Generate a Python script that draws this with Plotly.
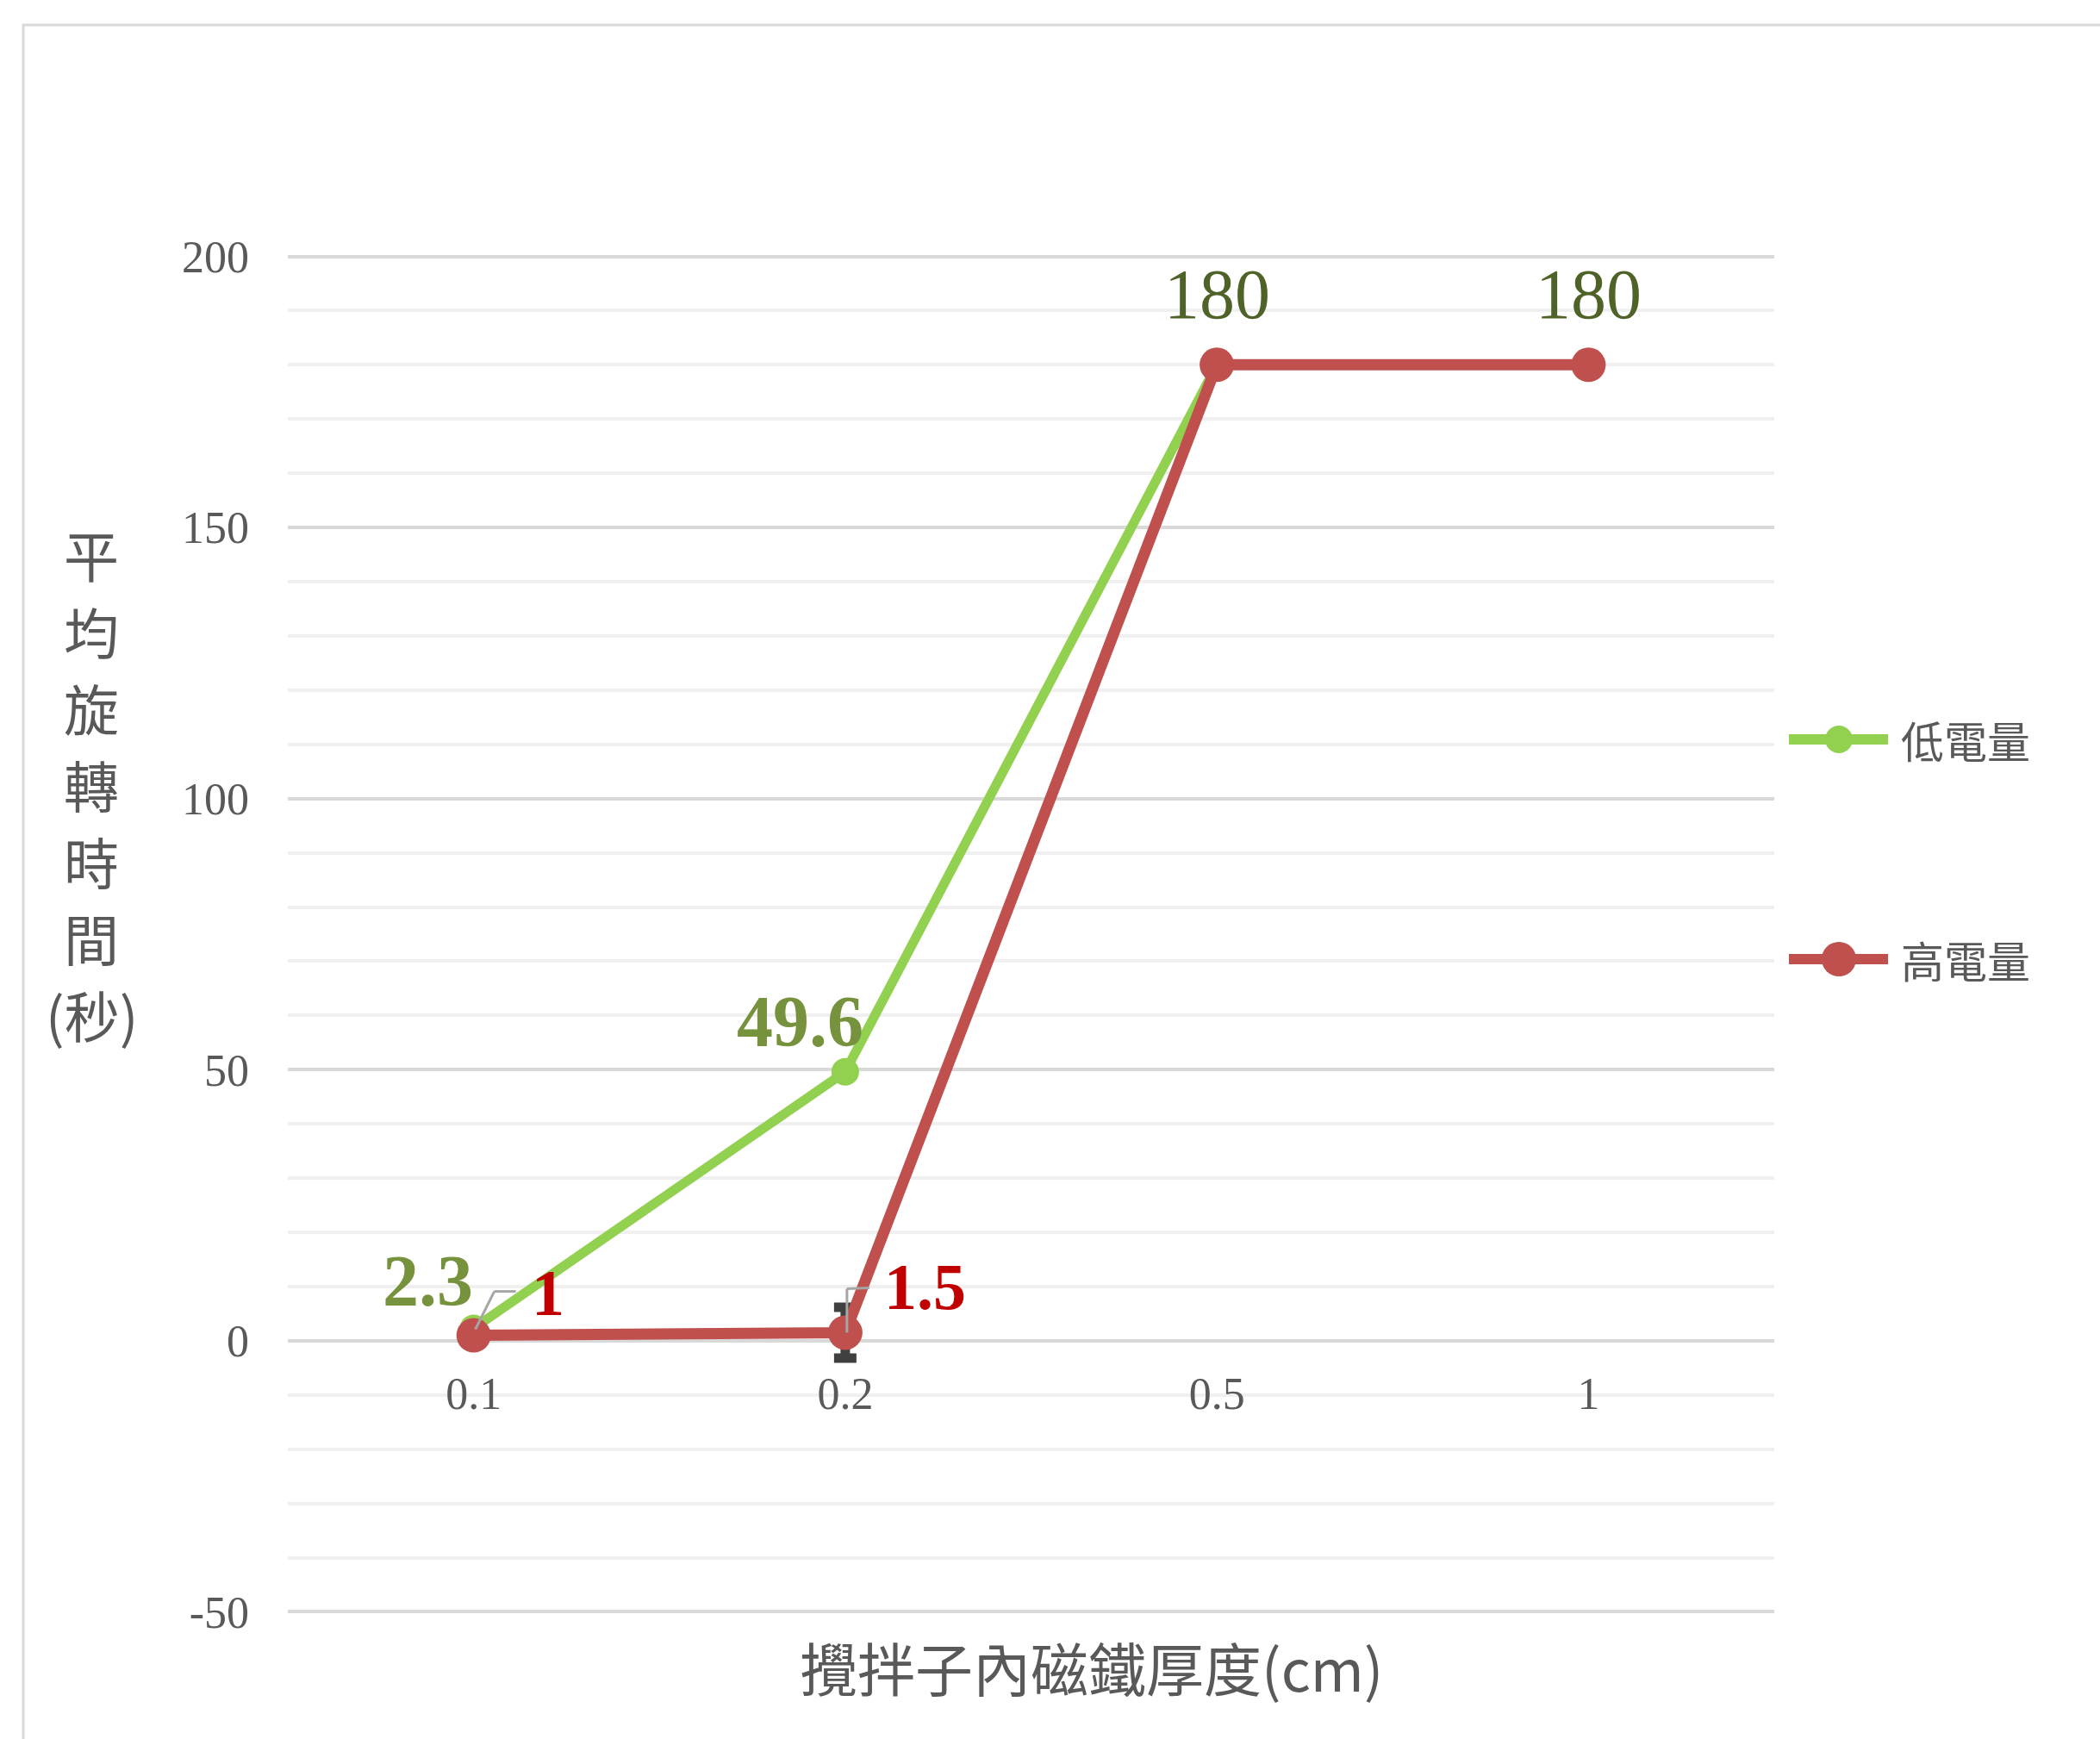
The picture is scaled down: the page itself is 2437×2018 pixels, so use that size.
import plotly.graph_objects as go

# ---- data ----
thickness = ["0.1", "0.2", "0.5", "1"]          # 攪拌子內磁鐵厚度 (cm)
low_power = [2.3, 49.6, 180, 180]               # 低電量 平均旋轉時間 (秒)
high_power = [1, 1.5, 180, 180]                 # 高電量 平均旋轉時間 (秒)
high_err = [0, 4.7, 0, 0]                       # 高電量 誤差

y_ticks = [-50, 0, 50, 100, 150, 200]
y_tick_text = ["-50", "0", "50", "100", "150", "200"]

# ---- figure geometry ----
W, H = 2437, 2018
ML, MR, MT, MB = 334, 378, 295, 145
PW, PH = W - ML - MR, H - MT - MB
Y_MIN, Y_MAX = -50, 200
Y_PAD = 0.4   # keeps the outermost gridlines inside the plot area

GREEN = "#92D050"
RED = "#C0504D"
GREY_TXT = "#595959"
SERIF = "Liberation Serif"
CJK = "Noto Sans CJK TC"


def px_x(px):
    return (px - ML) / PW


def px_y(py):
    return (H - MB - py) / PH


xs = list(range(len(thickness)))

fig = go.Figure()

fig.add_trace(go.Scatter(
    x=xs, y=low_power, mode="lines+markers", name="低電量",
    line=dict(color=GREEN, width=11), marker=dict(color=GREEN, size=32),
    showlegend=False, hoverinfo="skip",
))

# error bar for the high-power series, drawn beneath its line and markers
err_idx = [i for i, e in enumerate(high_err) if e > 0]
fig.add_trace(go.Scatter(
    x=[xs[i] for i in err_idx], y=[high_power[i] for i in err_idx],
    mode="markers", marker=dict(size=1, opacity=0),
    error_y=dict(type="data", array=[high_err[i] for i in err_idx],
                 color="#404040", thickness=11, width=13),
    showlegend=False, hoverinfo="skip",
))

fig.add_trace(go.Scatter(
    x=xs, y=high_power, mode="lines+markers", name="高電量",
    line=dict(color=RED, width=13), marker=dict(color=RED, size=40),
    showlegend=False, hoverinfo="skip",
))

annotations = []
shapes = []

# ---- data labels ----
def fmt(v):
    return f"{v:g}"

low_label_style = {
    0: dict(xshift=-53, yshift=55, color="#76923C", bold=True, size=84),
    1: dict(xshift=-52, yshift=58, color="#76923C", bold=True, size=84),
    2: dict(xshift=0, yshift=82, color="#4F6228", bold=False, size=82),
    3: dict(xshift=0, yshift=82, color="#4F6228", bold=False, size=82),
}
for i, st in low_label_style.items():
    t = fmt(low_power[i])
    annotations.append(dict(
        x=xs[i], y=low_power[i], xref="x", yref="y",
        text=f"<b>{t}</b>" if st["bold"] else t, showarrow=False,
        xshift=st["xshift"], yshift=st["yshift"],
        font=dict(family=SERIF, size=st["size"], color=st["color"]),
    ))

high_label_style = {
    0: dict(xshift=86, yshift=50),
    1: dict(xshift=93, yshift=53),
}
for i, st in high_label_style.items():
    annotations.append(dict(
        x=xs[i], y=high_power[i], xref="x", yref="y",
        text=f"<b>{fmt(high_power[i])}</b>", showarrow=False,
        xshift=st["xshift"], yshift=st["yshift"],
        font=dict(family=SERIF, size=76, color="#C00000"),
    ))

# leader lines from points to the red labels
leaders = {
    0: [(2, 7), (24, 51), (49, 51)],
    1: [(2, 0), (2, 51), (28, 52)],
}
for i, pts in leaders.items():
    for (ax, ay), (bx, by) in zip(pts[:-1], pts[1:]):
        shapes.append(dict(
            type="line", xref="x", yref="y",
            xsizemode="pixel", ysizemode="pixel",
            xanchor=xs[i], yanchor=high_power[i],
            x0=ax, y0=ay, x1=bx, y1=by,
            line=dict(color="#A6A6A6", width=3), layer="above",
        ))

# ---- outer chart frame ----
shapes.append(dict(
    type="rect", xref="paper", yref="paper",
    x0=px_x(27), x1=px_x(W + 20), y0=px_y(H + 20), y1=px_y(29),
    line=dict(color="#D9D9D9", width=3), fillcolor="rgba(0,0,0,0)", layer="below",
))

# ---- legend ----
legend_items = [("低電量", GREEN, 32, 858), ("高電量", RED, 40, 1113)]
for name, color, msize, py in legend_items:
    yy = px_y(py)
    shapes.append(dict(
        type="line", xref="paper", yref="paper",
        x0=px_x(2076), x1=px_x(2191), y0=yy, y1=yy,
        line=dict(color=color, width=12),
    ))
    r = msize / 2
    shapes.append(dict(
        type="circle", xref="paper", yref="paper",
        xsizemode="pixel", ysizemode="pixel",
        xanchor=px_x(2134), yanchor=yy,
        x0=-r, x1=r, y0=-r, y1=r,
        fillcolor=color, line=dict(width=0),
    ))
    annotations.append(dict(
        x=px_x(2204), y=yy, xref="paper", yref="paper",
        xanchor="left", yanchor="middle", showarrow=False, text=name,
        font=dict(family=CJK, size=50, color=GREY_TXT),
    ))

# ---- axis titles ----
y_title = ["平", "均", "旋", "轉", "時", "間", "(秒)"]
for k, ch in enumerate(y_title):
    annotations.append(dict(
        x=px_x(106), y=px_y(642 + 89 * k), xref="paper", yref="paper",
        xanchor="center", yanchor="middle", showarrow=False, text=ch,
        font=dict(family=CJK, size=64, color=GREY_TXT),
    ))

annotations.append(dict(
    x=px_x(1267), y=px_y(1934), xref="paper", yref="paper",
    xanchor="center", yanchor="middle", showarrow=False,
    text="攪拌子內磁鐵厚度(cm)",
    font=dict(family=CJK, size=67, color=GREY_TXT),
))

fig.update_layout(
    width=W, height=H,
    margin=dict(l=ML, r=MR, t=MT, b=MB, pad=0),
    paper_bgcolor="white", plot_bgcolor="white",
    showlegend=False,
    xaxis=dict(
        range=[-0.5, len(thickness) - 0.5],
        tickvals=xs, ticktext=thickness,
        showgrid=False, zeroline=False, showline=False, ticks="",
        anchor="free", position=(0 - Y_MIN + Y_PAD) / (Y_MAX - Y_MIN + 2 * Y_PAD),
        ticklabelstandoff=26,
        tickfont=dict(family=SERIF, size=52, color=GREY_TXT),
        fixedrange=True,
    ),
    yaxis=dict(
        range=[Y_MIN - Y_PAD, Y_MAX + Y_PAD], tickvals=y_ticks, ticktext=y_tick_text,
        showgrid=True, gridcolor="#D9D9D9", gridwidth=4,
        minor=dict(dtick=10, showgrid=True, gridcolor="#F0F0F0", gridwidth=4),
        zeroline=False, showline=False, ticks="",
        ticklabelstandoff=44,
        tickfont=dict(family=SERIF, size=52, color=GREY_TXT),
        fixedrange=True,
    ),
    annotations=annotations,
    shapes=shapes,
)

fig.write_html("out.html")
